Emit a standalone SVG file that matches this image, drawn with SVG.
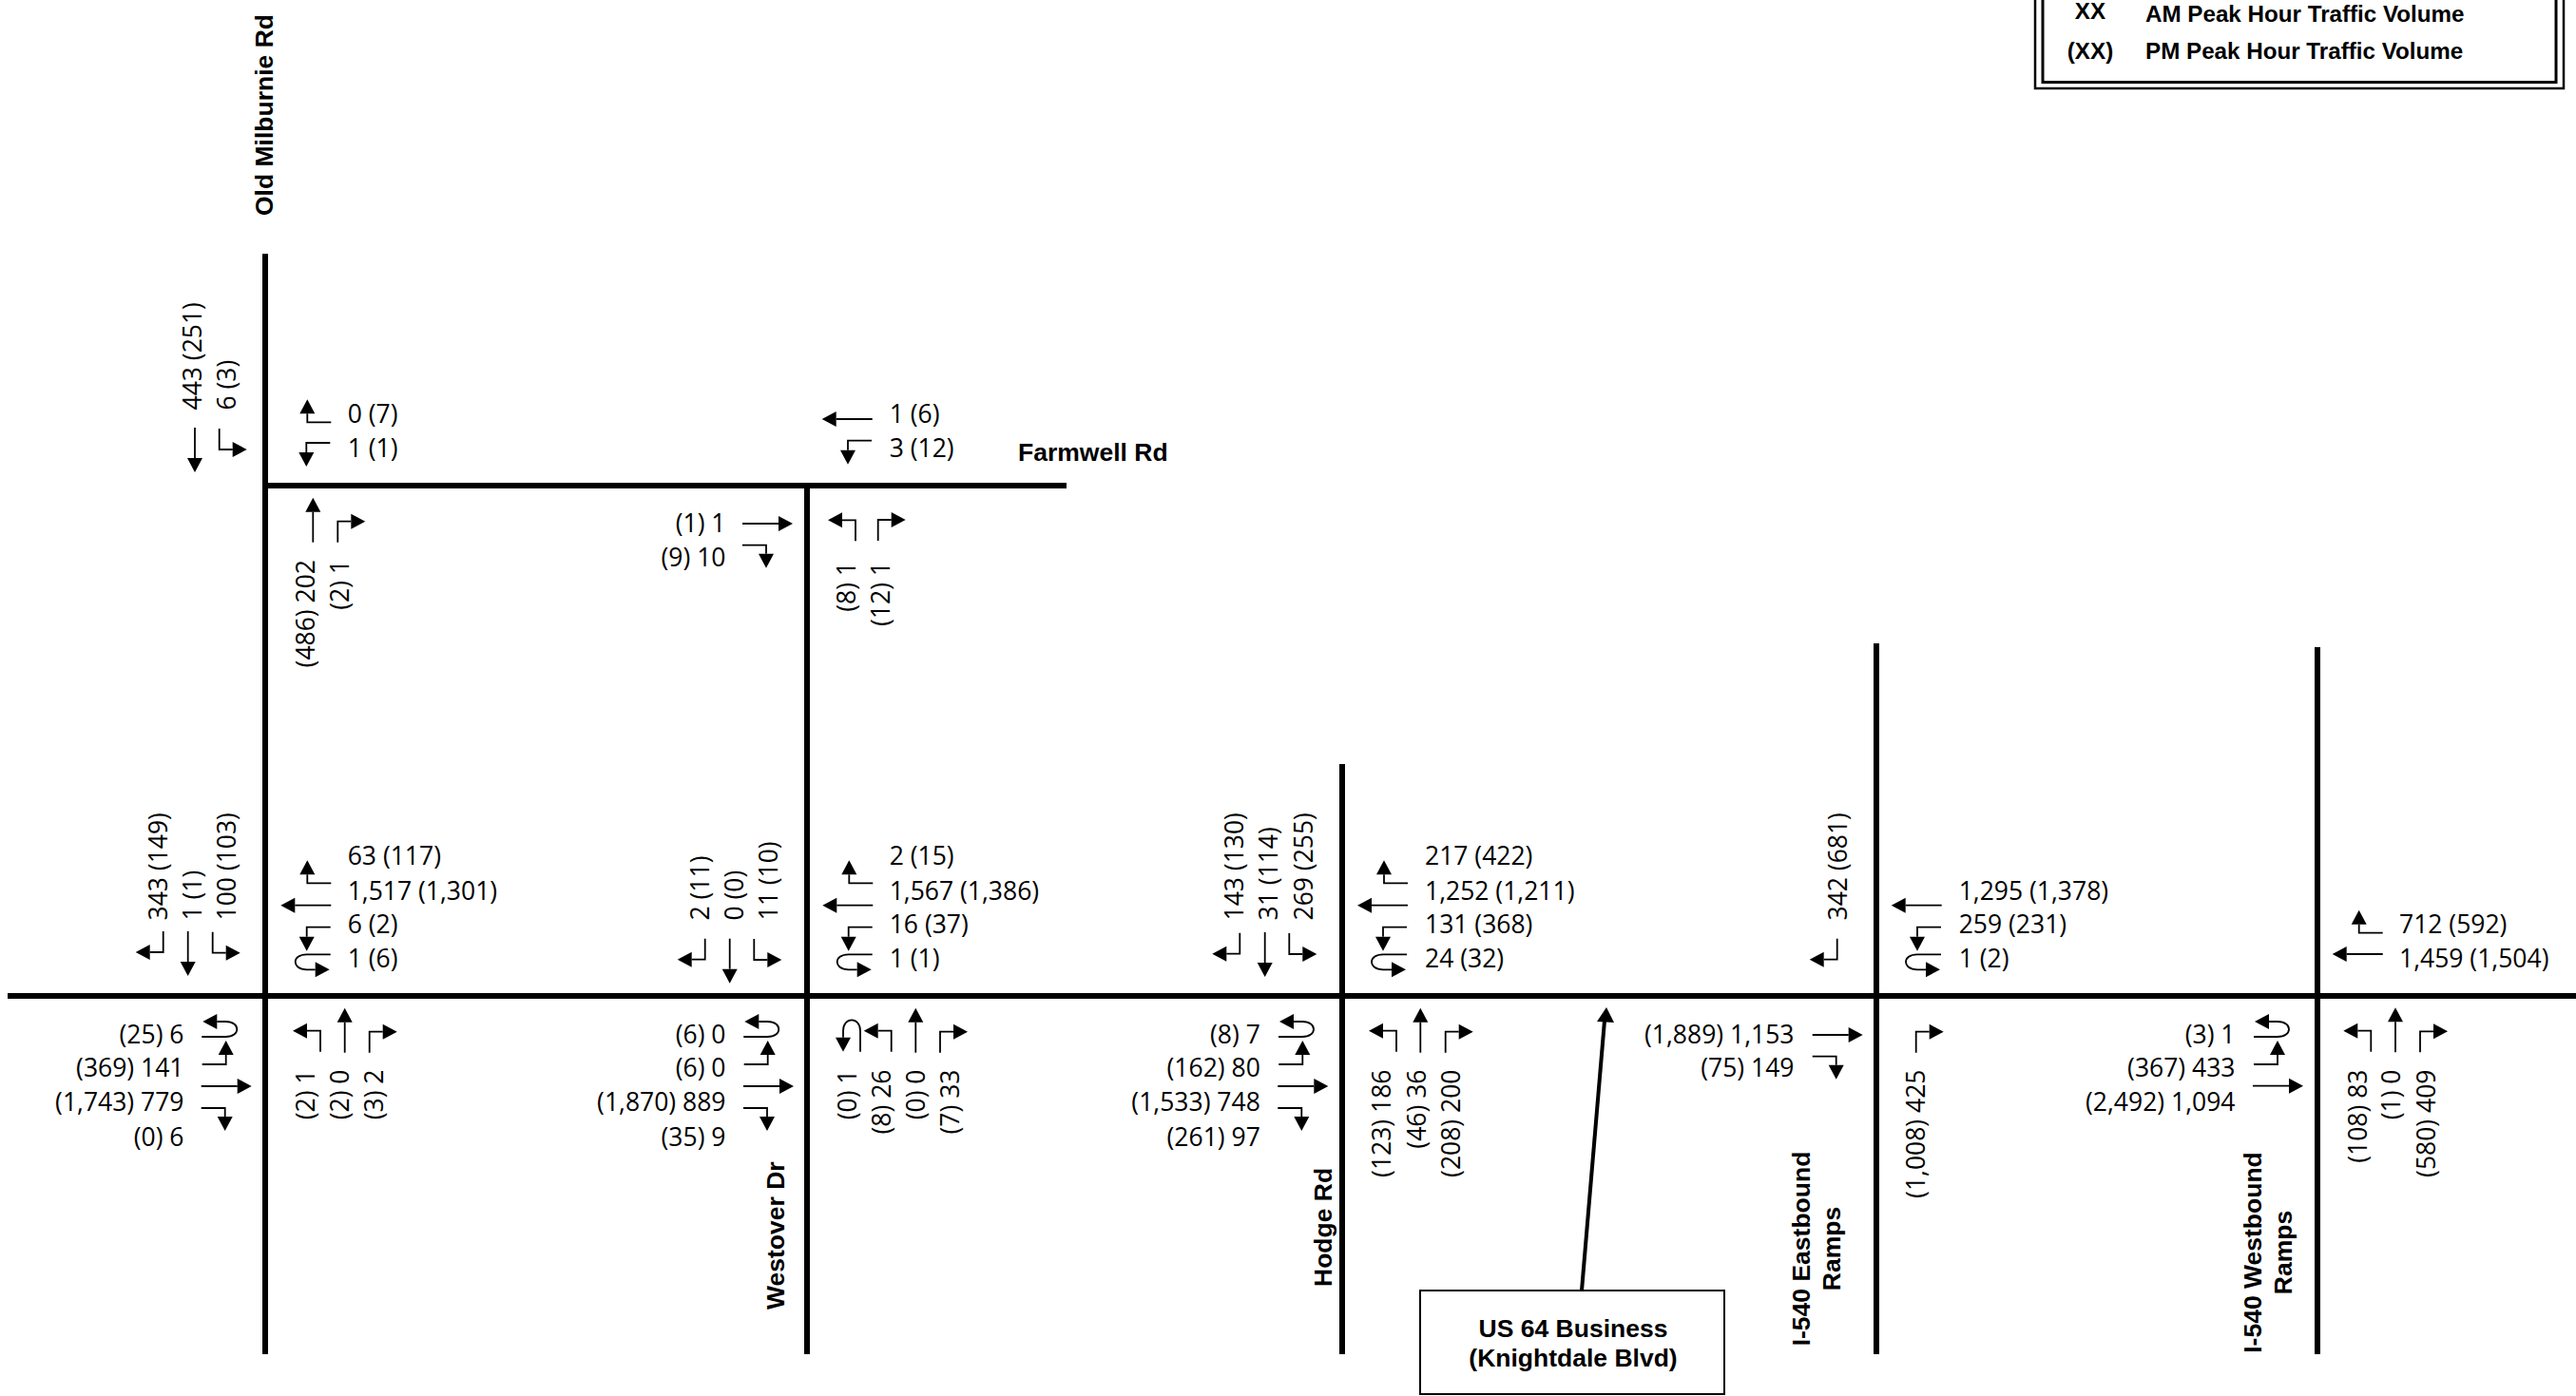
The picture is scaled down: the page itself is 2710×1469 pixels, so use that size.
<svg xmlns="http://www.w3.org/2000/svg" width="2710" height="1469" viewBox="0 0 2710 1469">
<style>
text{fill:#000}
.n{font-family:"Open Sans","Liberation Sans",sans-serif;font-size:26.5px}
.e{text-anchor:end}
.b{font-family:"Liberation Sans",Arial,sans-serif;font-weight:700;font-size:26.5px}
.m{text-anchor:middle}
.l{font-size:24.2px}
.road{stroke:#000;stroke-width:6;fill:none}
.a path{fill:none;stroke:#000;stroke-width:1.8}
.a polygon{fill:#000}
</style>
<defs>
<g id="aR" class="a"><path d="M0 0H-25V-9"/><polygon points="-25,-24 -33,-9 -17,-9"/></g>
<g id="aL" class="a"><path d="M0 0H-25V10"/><polygon points="-25,25 -33,10 -17,10"/></g>
<g id="aT" class="a"><path d="M0 0H-38"/><polygon points="-53,0 -38,-8 -38,8"/></g>
<g id="aU" class="a"><path d="M0 0H-25C-41 0 -41 16 -25 16H-16"/><polygon points="-1,16 -16,8 -16,24"/></g>
<g id="sR" class="a"><path d="M0 0H-22V-14"/><polygon points="-22,-29 -30,-14 -14,-14"/></g>
<g id="sL" class="a"><path d="M0 0H-22V14"/><polygon points="-22,29 -30,14 -14,14"/></g>
<g id="sT" class="a"><path d="M0 0H-32"/><polygon points="-47,0 -32,-8 -32,8"/></g>
<g id="sU" class="a"><path d="M0 0H-22C-37 0 -37 18 -22 18H-15"/><polygon points="0,18 -15,10 -15,26"/></g>
</defs>
<rect width="2710" height="1469" fill="#fff"/>
<g id="connectors">
<path class="road" d="M8 1048H2710M279 267V1425M279 511H1122M849 511V1425M1412 804V1425M1974 677V1425M2438 681V1425"/>
<path d="M1664 1358L1688 1074" stroke="#000" stroke-width="4" fill="none"/>
<polygon points="1690,1060 1698,1076 1680,1075" fill="#000"/>
</g>
<g id="legend">
<rect x="2141" y="-20" width="556" height="113" fill="none" stroke="#000" stroke-width="2.5"/>
<rect x="2149" y="-20" width="540" height="106.5" fill="none" stroke="#000" stroke-width="3"/>
<text class="b l m" x="2199" y="20">XX</text>
<text class="b l" x="2257" y="23">AM Peak Hour Traffic Volume</text>
<text class="b l m" x="2199" y="62">(XX)</text>
<text class="b l" x="2257" y="62">PM Peak Hour Traffic Volume</text>
</g>
<g id="road-labels">
<text class="b" transform="translate(287 227) rotate(-90)">Old Milburnie Rd</text>
<text class="b" x="1071" y="485">Farmwell Rd</text>
<text class="b" transform="translate(825 1378) rotate(-90)">Westover Dr</text>
<text class="b" transform="translate(1401 1354) rotate(-90)">Hodge Rd</text>
<text class="b m" transform="translate(1904 1314) rotate(-90)">I-540 Eastbound</text>
<text class="b m" transform="translate(1936 1314) rotate(-90)">Ramps</text>
<text class="b m" transform="translate(2379 1318) rotate(-90)">I-540 Westbound</text>
<text class="b m" transform="translate(2411 1318) rotate(-90)">Ramps</text>
</g>
<g id="us64-box">
<rect x="1494" y="1358" width="320" height="109" fill="#fff" stroke="#000" stroke-width="2"/>
<text class="b m" x="1655" y="1407">US 64 Business</text>
<text class="b m" x="1655" y="1438">(Knightdale Blvd)</text>
</g>
<g id="int-milburnie-farmwell">
<use href="#sT" transform="translate(205 450) rotate(-90)"/>
<use href="#sL" transform="translate(230.7 451) rotate(-90)"/>
<text class="n" transform="translate(211.7 431.5) rotate(-90)">443 (251)</text>
<text class="n" transform="translate(247.7 431.5) rotate(-90)">6 (3)</text>
<use href="#aR" x="348.3" y="444.3"/>
<use href="#aL" x="347.3" y="466"/>
<text class="n" x="365.7" y="445">0 (7)</text>
<text class="n" x="365.7" y="481">1 (1)</text>
<use href="#sT" transform="translate(329.3 570.7) rotate(90)"/>
<use href="#sR" transform="translate(355.3 570.7) rotate(90)"/>
<text class="n e" transform="translate(330.7 589) rotate(-90)">(486) 202</text>
<text class="n e" transform="translate(366.7 589) rotate(-90)">(2) 1</text>
</g>
<g id="int-westover-farmwell">
<use href="#aT" x="917.7" y="441"/>
<use href="#aL" x="917" y="463.7"/>
<text class="n" x="935.7" y="445">1 (6)</text>
<text class="n" x="935.7" y="481">3 (12)</text>
<use href="#aT" transform="translate(781 551) rotate(180)"/>
<use href="#aR" transform="translate(781 573.7) rotate(180)"/>
<text class="n e" x="763.5" y="560">(1) 1</text>
<text class="n e" x="763.5" y="596">(9) 10</text>
<use href="#sL" transform="translate(900 569.3) rotate(90)"/>
<use href="#sR" transform="translate(923.7 569) rotate(90)"/>
<text class="n e" transform="translate(900 591) rotate(-90)">(8) 1</text>
<text class="n e" transform="translate(936 591) rotate(-90)">(12) 1</text>
</g>
<g id="int-milburnie-us64">
<use href="#sR" transform="translate(171.7 980) rotate(-90)"/>
<use href="#sT" transform="translate(197.7 980) rotate(-90)"/>
<use href="#sL" transform="translate(223.7 980.7) rotate(-90)"/>
<text class="n" transform="translate(176 968.5) rotate(-90)">343 (149)</text>
<text class="n" transform="translate(211.7 968.5) rotate(-90)">1 (1)</text>
<text class="n" transform="translate(247.7 968.5) rotate(-90)">100 (103)</text>
<use href="#aR" x="348.3" y="929.3"/>
<use href="#aT" x="348.3" y="952.7"/>
<use href="#aL" x="347.7" y="975.7"/>
<use href="#aU" x="347.7" y="1004.3"/>
<text class="n" x="365.7" y="910">63 (117)</text>
<text class="n" x="365.7" y="946.7">1,517 (1,301)</text>
<text class="n" x="365.7" y="981.7">6 (2)</text>
<text class="n" x="365.7" y="1018">1 (6)</text>
<use href="#aU" transform="translate(212.3 1091) rotate(180)"/>
<use href="#aL" transform="translate(212.7 1120) rotate(180)"/>
<use href="#aT" transform="translate(211.7 1143) rotate(180)"/>
<use href="#aR" transform="translate(211.7 1166) rotate(180)"/>
<text class="n e" x="193.5" y="1097.7">(25) 6</text>
<text class="n e" x="193.5" y="1133">(369) 141</text>
<text class="n e" x="193.5" y="1169">(1,743) 779</text>
<text class="n e" x="193.5" y="1206">(0) 6</text>
<use href="#sL" transform="translate(337 1106.7) rotate(90)"/>
<use href="#sT" transform="translate(362.7 1107.7) rotate(90)"/>
<use href="#sR" transform="translate(388.7 1107.7) rotate(90)"/>
<text class="n e" transform="translate(330.7 1125.5) rotate(-90)">(2) 1</text>
<text class="n e" transform="translate(366.7 1125.5) rotate(-90)">(2) 0</text>
<text class="n e" transform="translate(402.7 1125.5) rotate(-90)">(3) 2</text>
</g>
<g id="int-westover-us64">
<use href="#sR" transform="translate(741.7 987.7) rotate(-90)"/>
<use href="#sT" transform="translate(767.7 987.7) rotate(-90)"/>
<use href="#sL" transform="translate(793.3 988) rotate(-90)"/>
<text class="n" transform="translate(746 968.5) rotate(-90)">2 (11)</text>
<text class="n" transform="translate(781.7 968.5) rotate(-90)">0 (0)</text>
<text class="n" transform="translate(817.7 968.5) rotate(-90)">11 (10)</text>
<use href="#aR" x="918.3" y="929.3"/>
<use href="#aT" x="918.3" y="952.7"/>
<use href="#aL" x="917.7" y="975.7"/>
<use href="#aU" x="917.7" y="1004.3"/>
<text class="n" x="935.7" y="910">2 (15)</text>
<text class="n" x="935.7" y="946.7">1,567 (1,386)</text>
<text class="n" x="935.7" y="981.7">16 (37)</text>
<text class="n" x="935.7" y="1018">1 (1)</text>
<use href="#aU" transform="translate(782.3 1091) rotate(180)"/>
<use href="#aL" transform="translate(782.7 1120) rotate(180)"/>
<use href="#aT" transform="translate(782 1143) rotate(180)"/>
<use href="#aR" transform="translate(782 1166) rotate(180)"/>
<text class="n e" x="763.5" y="1097.7">(6) 0</text>
<text class="n e" x="763.5" y="1133">(6) 0</text>
<text class="n e" x="763.5" y="1169">(1,870) 889</text>
<text class="n e" x="763.5" y="1206">(35) 9</text>
<use href="#sU" transform="translate(905 1106.7) rotate(90)"/>
<use href="#sL" transform="translate(937.7 1106.7) rotate(90)"/>
<use href="#sT" transform="translate(963.3 1107.7) rotate(90)"/>
<use href="#sR" transform="translate(989 1107.7) rotate(90)"/>
<text class="n e" transform="translate(900.7 1125.5) rotate(-90)">(0) 1</text>
<text class="n e" transform="translate(936.7 1125.5) rotate(-90)">(8) 26</text>
<text class="n e" transform="translate(972.7 1125.5) rotate(-90)">(0) 0</text>
<text class="n e" transform="translate(1008.7 1125.5) rotate(-90)">(7) 33</text>
</g>
<g id="int-hodge-us64">
<use href="#sR" transform="translate(1304.3 981.7) rotate(-90)"/>
<use href="#sT" transform="translate(1330.7 981) rotate(-90)"/>
<use href="#sL" transform="translate(1356.3 982) rotate(-90)"/>
<text class="n" transform="translate(1308.3 968.5) rotate(-90)">143 (130)</text>
<text class="n" transform="translate(1344.3 968.5) rotate(-90)">31 (114)</text>
<text class="n" transform="translate(1380.7 968.5) rotate(-90)">269 (255)</text>
<use href="#aR" x="1481" y="929.3"/>
<use href="#aT" x="1481" y="952.7"/>
<use href="#aL" x="1480" y="975.7"/>
<use href="#aU" x="1480" y="1004.3"/>
<text class="n" x="1499" y="910">217 (422)</text>
<text class="n" x="1499" y="946.7">1,252 (1,211)</text>
<text class="n" x="1499" y="981.7">131 (368)</text>
<text class="n" x="1499" y="1018">24 (32)</text>
<use href="#aU" transform="translate(1345 1091) rotate(180)"/>
<use href="#aL" transform="translate(1345.3 1120) rotate(180)"/>
<use href="#aT" transform="translate(1344.3 1143) rotate(180)"/>
<use href="#aR" transform="translate(1344.3 1166) rotate(180)"/>
<text class="n e" x="1325.8" y="1097.7">(8) 7</text>
<text class="n e" x="1325.8" y="1133">(162) 80</text>
<text class="n e" x="1325.8" y="1169">(1,533) 748</text>
<text class="n e" x="1325.8" y="1206">(261) 97</text>
<use href="#sL" transform="translate(1469 1106.7) rotate(90)"/>
<use href="#sT" transform="translate(1494.3 1107.7) rotate(90)"/>
<use href="#sR" transform="translate(1520.7 1107.7) rotate(90)"/>
<text class="n e" transform="translate(1463.3 1125.5) rotate(-90)">(123) 186</text>
<text class="n e" transform="translate(1500 1125.5) rotate(-90)">(46) 36</text>
<text class="n e" transform="translate(1536 1125.5) rotate(-90)">(208) 200</text>
</g>
<g id="int-i540-eb">
<use href="#sR" transform="translate(1932.7 987.7) rotate(-90)"/>
<text class="n" transform="translate(1942.7 968.5) rotate(-90)">342 (681)</text>
<use href="#aT" x="2042.7" y="952.7"/>
<use href="#aL" x="2042" y="975.7"/>
<use href="#aU" x="2042" y="1004.3"/>
<text class="n" x="2060.7" y="946.7">1,295 (1,378)</text>
<text class="n" x="2060.7" y="981.7">259 (231)</text>
<text class="n" x="2060.7" y="1018">1 (2)</text>
<use href="#aT" transform="translate(1906.7 1089) rotate(180)"/>
<use href="#aR" transform="translate(1906.7 1111.7) rotate(180)"/>
<text class="n e" x="1887.5" y="1097.7">(1,889) 1,153</text>
<text class="n e" x="1887.5" y="1133.3">(75) 149</text>
<use href="#sR" transform="translate(2015.7 1107.7) rotate(90)"/>
<text class="n e" transform="translate(2025 1125.5) rotate(-90)">(1,008) 425</text>
</g>
<g id="int-i540-wb">
<use href="#aR" x="2506.7" y="981.7"/>
<use href="#aT" x="2506.7" y="1004"/>
<text class="n" x="2524" y="981.7">712 (592)</text>
<text class="n" x="2524" y="1017.7">1,459 (1,504)</text>
<use href="#aU" transform="translate(2371 1091) rotate(180)"/>
<use href="#aL" transform="translate(2371 1120) rotate(180)"/>
<use href="#aT" transform="translate(2370 1142.7) rotate(180)"/>
<text class="n e" x="2351.5" y="1097.7">(3) 1</text>
<text class="n e" x="2351.5" y="1133">(367) 433</text>
<text class="n e" x="2351.5" y="1169">(2,492) 1,094</text>
<use href="#sL" transform="translate(2494.3 1106.7) rotate(90)"/>
<use href="#sT" transform="translate(2520 1107.3) rotate(90)"/>
<use href="#sR" transform="translate(2546 1107.3) rotate(90)"/>
<text class="n e" transform="translate(2490 1125.5) rotate(-90)">(108) 83</text>
<text class="n e" transform="translate(2525 1125.5) rotate(-90)">(1) 0</text>
<text class="n e" transform="translate(2561.7 1125.5) rotate(-90)">(580) 409</text>
</g>
</svg>
